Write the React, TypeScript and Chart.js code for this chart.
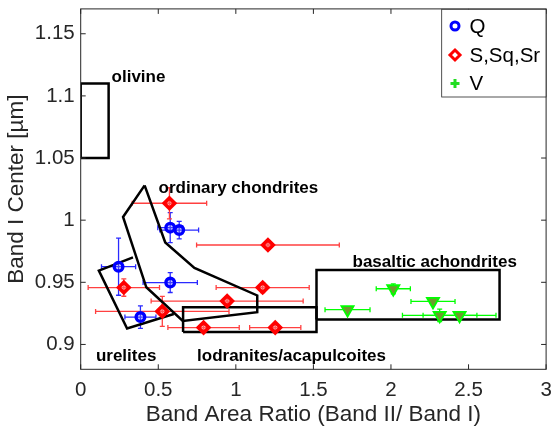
import React, { useEffect, useRef } from 'react';
import { Chart, registerables } from 'chart.js';

Chart.register(...registerables);

const FONT = "'Liberation Sans', Arial, Helvetica, sans-serif";

// ---- data ----
const seriesNames = ['Q', 'S,Sq,Sr', 'V'];

// Q-type
const qX = [0.577, 0.635, 0.244, 0.577, 0.385];
const qY = [0.994, 0.992, 0.9626, 0.9498, 0.922];
const qXErr = [0.08, 0.125, 0.11, 0.175, 0.1];
const qYErr = [0.012, 0.007, 0.023, 0.008, 0.009];

// S, Sq, Sr
const sX = [0.572, 1.207, 0.278, 1.173, 0.944, 0.526, 0.792, 1.254];
const sY = [1.0136, 0.98, 0.9458, 0.9458, 0.9349, 0.9266, 0.9136, 0.9136];
const sXErr = [0.24, 0.46, 0.23, 0.3, 0.49, 0.43, 0.23, 0.165];
const sYErr = [0.0125, 0.002, 0.007, 0.004, 0.002, 0.012, 0.002, 0.002];

// V-type
const vX = [1.72, 2.015, 2.271, 2.314, 2.442];
const vY = [0.928, 0.9448, 0.9346, 0.9234, 0.9234];
const vXErr = [0.145, 0.11, 0.142, 0.24, 0.235];
const vYErr = [0.002, 0.004, 0.002, 0.005, 0.002];

// meteorite fields
const olivineX = [0, 0.18, 0.18, 0, 0];
const olivineY = [1.05, 1.05, 1.11, 1.11, 1.05];
const ordX = [0.412, 0.273, 0.423, 0.658, 1.138, 1.138, 0.733, 0.545, 0.412];
const ordY = [1.028, 1.0026, 0.946, 0.9189, 0.926, 0.9394, 0.9616, 0.982, 1.028];
const ureX = [0.337, 0.117, 0.299, 0.6];
const ureY = [0.97, 0.9594, 0.9128, 0.9245];
const lodX = [0.66, 1.52, 1.52, 0.66, 0.66];
const lodY = [0.91, 0.91, 0.93, 0.93, 0.91];
const basX = [1.52, 2.7, 2.7, 1.52, 1.52];
const basY = [0.92, 0.92, 0.96, 0.96, 0.92];

// field labels (anchor: left, baseline) in data units
const fieldLabels = ['olivine', 'ordinary chondrites', 'urelites', 'lodranites/acapulcoites', 'basaltic achondrites'];
const fieldLabelX = [0.199, 0.502, 0.098, 0.75, 1.752];
const fieldLabelY = [1.1114, 1.0218, 0.8866, 0.8866, 0.962];

// axes
const xTickVals = [0, 0.5, 1, 1.5, 2, 2.5, 3];
const yTickVals = [0.9, 0.95, 1, 1.05, 1.1, 1.15];

const fmt = (v: number) => String(parseFloat(Number(v).toFixed(2)));
const pts = (xs: number[], ys: number[]) => xs.map((x, i) => ({ x, y: ys[i] }));

const errorSeries = [
  { xs: qX, ys: qY, xe: qXErr, ye: qYErr, color: '#2a2aff' },
  { xs: sX, ys: sY, xe: sXErr, ye: sYErr, color: '#ff4040' },
  { xs: vX, ys: vY, xe: vXErr, ye: vYErr, color: '#00ff00' },
];

const errorBarsPlugin = {
  id: 'errorBars',
  beforeDatasetsDraw(chart: any) {
    const { ctx, chartArea } = chart;
    const xs = chart.scales.x;
    const ys = chart.scales.y;
    ctx.save();
    ctx.beginPath();
    ctx.rect(chartArea.left, chartArea.top, chartArea.right - chartArea.left, chartArea.bottom - chartArea.top);
    ctx.clip();
    ctx.lineWidth = 1.3;
    const cap = 2.5;
    errorSeries.forEach((s) => {
      ctx.strokeStyle = s.color;
      s.xs.forEach((xv, i) => {
        const yv = s.ys[i];
        const px = xs.getPixelForValue(xv);
        const py = ys.getPixelForValue(yv);
        const x1 = xs.getPixelForValue(xv - s.xe[i]);
        const x2 = xs.getPixelForValue(xv + s.xe[i]);
        const y1 = ys.getPixelForValue(yv - s.ye[i]);
        const y2 = ys.getPixelForValue(yv + s.ye[i]);
        ctx.beginPath();
        ctx.moveTo(x1, py); ctx.lineTo(x2, py);
        ctx.moveTo(x1, py - cap); ctx.lineTo(x1, py + cap);
        ctx.moveTo(x2, py - cap); ctx.lineTo(x2, py + cap);
        ctx.moveTo(px, y1); ctx.lineTo(px, y2);
        ctx.moveTo(px - cap, y1); ctx.lineTo(px + cap, y1);
        ctx.moveTo(px - cap, y2); ctx.lineTo(px + cap, y2);
        ctx.stroke();
      });
    });
    ctx.restore();
  },
};

const labelsPlugin = {
  id: 'fieldLabels',
  afterDatasetsDraw(chart: any) {
    const { ctx } = chart;
    const xs = chart.scales.x;
    const ys = chart.scales.y;
    ctx.save();
    ctx.font = `bold 17px ${FONT}`;
    ctx.fillStyle = '#000000';
    ctx.textAlign = 'left';
    ctx.textBaseline = 'alphabetic';
    fieldLabels.forEach((t, i) => {
      ctx.fillText(t, xs.getPixelForValue(fieldLabelX[i]), ys.getPixelForValue(fieldLabelY[i]));
    });
    ctx.restore();
  },
};

const framePlugin = {
  id: 'frame',
  afterDatasetsDraw(chart: any) {
    const { ctx, chartArea } = chart;
    const { left, right, top, bottom } = chartArea;
    const xs = chart.scales.x;
    const ys = chart.scales.y;
    const tl = 5;
    ctx.save();
    ctx.strokeStyle = '#262626';
    ctx.lineWidth = 1;
    ctx.strokeRect(left, top, right - left, bottom - top);
    ctx.beginPath();
    xTickVals.forEach((v) => {
      const p = xs.getPixelForValue(v);
      ctx.moveTo(p, bottom); ctx.lineTo(p, bottom - tl);
      ctx.moveTo(p, top); ctx.lineTo(p, top + tl);
    });
    yTickVals.forEach((v) => {
      const p = ys.getPixelForValue(v);
      ctx.moveTo(left, p); ctx.lineTo(left + tl, p);
      ctx.moveTo(right, p); ctx.lineTo(right - tl, p);
    });
    ctx.stroke();
    ctx.restore();
  },
};

const legendPlugin = {
  id: 'boxLegend',
  afterDraw(chart: any) {
    const { ctx } = chart;
    const x0 = 441.7, y0 = 9.3, x1 = 546, y1 = 97;
    ctx.save();
    ctx.fillStyle = '#ffffff';
    ctx.fillRect(x0, y0, x1 - x0, y1 - y0);
    ctx.strokeStyle = '#262626';
    ctx.lineWidth = 0.8;
    ctx.strokeRect(x0, y0, x1 - x0, y1 - y0);
    const rowY = [26, 55, 83.5];
    const mx = 455;
    // Q marker
    ctx.beginPath();
    ctx.arc(mx, rowY[0], 4, 0, Math.PI * 2);
    ctx.strokeStyle = '#0000ff';
    ctx.lineWidth = 3;
    ctx.stroke();
    // S marker
    ctx.beginPath();
    ctx.moveTo(mx, rowY[1] - 5);
    ctx.lineTo(mx + 5, rowY[1]);
    ctx.lineTo(mx, rowY[1] + 5);
    ctx.lineTo(mx - 5, rowY[1]);
    ctx.closePath();
    ctx.strokeStyle = '#ff0000';
    ctx.stroke();
    // V marker
    ctx.beginPath();
    ctx.moveTo(mx - 4.5, rowY[2]); ctx.lineTo(mx + 4.5, rowY[2]);
    ctx.moveTo(mx, rowY[2] - 4.5); ctx.lineTo(mx, rowY[2] + 4.5);
    ctx.strokeStyle = '#22dd22';
    ctx.lineWidth = 3;
    ctx.stroke();
    ctx.fillStyle = '#000000';
    ctx.font = `20.5px ${FONT}`;
    ctx.textAlign = 'left';
    ctx.textBaseline = 'middle';
    seriesNames.forEach((n, i) => ctx.fillText(n, 469.5, rowY[i] + 1));
    ctx.restore();
  },
};

const shape = (xs: number[], ys: number[]) => ({
  type: 'scatter' as const,
  data: pts(xs, ys),
  showLine: true,
  fill: false,
  tension: 0,
  borderColor: '#000000',
  borderWidth: 2.5,
  pointRadius: 0,
  pointHoverRadius: 0,
});

const zeroPad = (s: any) => {
  s.paddingTop = 0;
  s.paddingBottom = 0;
  s.paddingLeft = 0;
  s.paddingRight = 0;
};

export default function App() {
  const ref = useRef<HTMLCanvasElement | null>(null);
  useEffect(() => {
    if (!ref.current) return;
    const tickFont = { family: FONT, size: 20.5 };
    const titleFont = { family: FONT, size: 22.5 };
    const chart = new Chart(ref.current, {
      type: 'scatter',
      data: {
        datasets: [
          {
            label: seriesNames[0],
            data: pts(qX, qY),
            pointStyle: 'circle',
            pointRadius: 4.3,
            pointBorderWidth: 3.4,
            borderColor: '#0000ff',
            backgroundColor: 'rgba(110,110,255,0.35)',
          },
          {
            label: seriesNames[1],
            data: pts(sX, sY),
            pointStyle: 'rectRot',
            pointRadius: 5.3,
            pointBorderWidth: 3.6,
            borderColor: '#ff0000',
            backgroundColor: 'rgba(255,110,110,0.45)',
          },
          {
            label: seriesNames[2],
            data: pts(vX, vY),
            pointStyle: 'triangle',
            pointRotation: 180,
            pointRadius: 7,
            pointBorderWidth: 1.8,
            borderColor: '#00ff00',
            backgroundColor: '#6e9b2e',
          },
          shape(olivineX, olivineY),
          shape(ordX, ordY),
          shape(ureX, ureY),
          shape(lodX, lodY),
          shape(basX, basY),
        ] as any,
      },
      options: {
        responsive: false,
        animation: false,
        devicePixelRatio: 1,
        layout: { padding: { left: 0, top: 6.7, right: 6.3, bottom: 0 } },
        plugins: {
          legend: { display: false },
          tooltip: { enabled: false },
        },
        scales: {
          x: {
            type: 'linear',
            min: 0,
            max: 3,
            grid: { display: false, drawTicks: false },
            border: { display: false },
            afterBuildTicks: (s: any) => { s.ticks = xTickVals.map((v) => ({ value: v })); },
            afterFit: (s: any) => { s.height = 60.7; zeroPad(s); },
            ticks: {
              font: tickFont,
              color: '#262626',
              padding: 8.4,
              maxRotation: 0,
              autoSkip: false,
              callback: (v: any) => fmt(v),
            },
            title: {
              display: true,
              text: 'Band Area Ratio (Band II/ Band I)',
              font: titleFont,
              color: '#262626',
              padding: { top: 0, bottom: 2.2 },
            },
          },
          y: {
            type: 'linear',
            min: 0.88,
            max: 1.17,
            grid: { display: false, drawTicks: false },
            border: { display: false },
            afterBuildTicks: (s: any) => { s.ticks = yTickVals.map((v) => ({ value: v })); },
            afterFit: (s: any) => { s.width = 80.7; zeroPad(s); },
            ticks: {
              font: tickFont,
              color: '#262626',
              padding: 6,
              autoSkip: false,
              callback: (v: any) => fmt(v),
            },
            title: {
              display: true,
              text: 'Band I Center [µm]',
              font: titleFont,
              color: '#262626',
              padding: { top: 2.8, bottom: 0 },
            },
          },
        },
      } as any,
      plugins: [errorBarsPlugin, framePlugin, labelsPlugin, legendPlugin],
    });
    return () => chart.destroy();
  }, []);
  return (
    <div style={{ position: 'fixed', left: 0, top: 0, width: 555, height: 430, background: '#ffffff' }}>
      <canvas ref={ref} width={555} height={430} style={{ width: 555, height: 430, display: 'block' }} />
    </div>
  );
}
